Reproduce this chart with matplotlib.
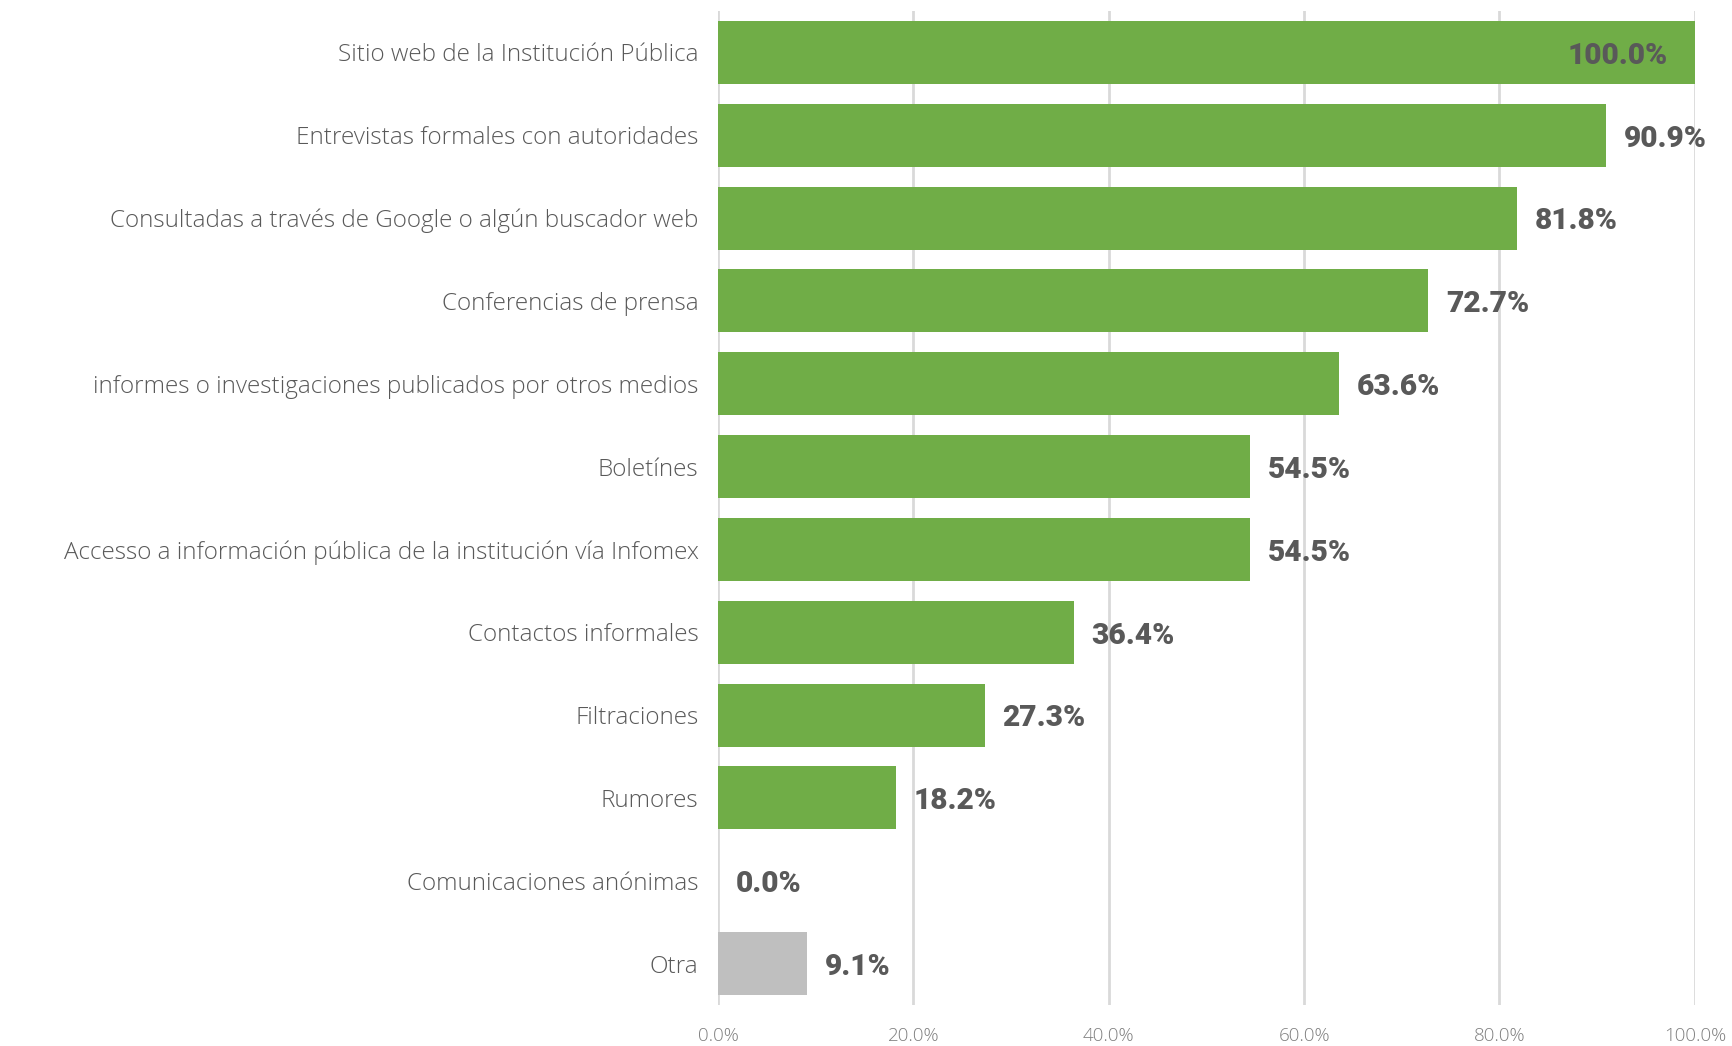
import matplotlib
matplotlib.use("Agg")
import matplotlib.pyplot as plt
from matplotlib.ticker import PercentFormatter

# Data (percent of respondents)
categories = [
    "Sitio web de la Institución Pública",
    "Entrevistas formales con autoridades",
    "Consultadas a través de Google o algún buscador web",
    "Conferencias de prensa",
    "informes o investigaciones publicados por otros medios",
    "Boletínes",
    "Accesso a información pública de la institución vía Infomex",
    "Contactos informales",
    "Filtraciones",
    "Rumores",
    "Comunicaciones anónimas",
    "Otra",
]
values = [100.0, 90.9, 81.8, 72.7, 63.6, 54.5, 54.5, 36.4, 27.3, 18.2, 0.0, 9.1]
bar_colors = ["#70AD47"] * 11 + ["#BFBFBF"]
x_ticks = [0, 20, 40, 60, 80, 100]

plt.rcParams['font.family'] = ['Open Sans', 'DejaVu Sans']

fig = plt.figure(figsize=(17.33, 10.46), dpi=100)
ax = fig.add_axes([0.4143, 0.0392, 0.978 - 0.4143, 0.9895 - 0.0392])

y = list(range(len(categories)))
ax.barh(y, values, height=0.76, color=bar_colors, zorder=2)

# value labels (the full bar gets its label inside)
for yi, v in zip(y, values):
    if v >= 99:
        ax.text(v - 2.8, yi + 0.04, f"{v:.1f}%", ha='right', va='center',
                fontsize=21.5, fontweight='heavy', color='#595959', zorder=3,
                family=['Roboto', 'DejaVu Sans'])
    else:
        ax.text(v + 1.8, yi + 0.04, f"{v:.1f}%", ha='left', va='center',
                fontsize=21.5, fontweight='heavy', color='#595959', zorder=3,
                family=['Roboto', 'DejaVu Sans'])

ax.set_ylim(len(categories) - 0.5, -0.5)
ax.set_xlim(0, 100)
ax.set_yticks(y)
ax.set_yticklabels(categories, fontsize=17.5, fontweight='light', color='#595959')
ax.set_xticks(x_ticks)
ax.xaxis.set_major_formatter(PercentFormatter(decimals=1))
ax.tick_params(axis='y', length=0, pad=14)
ax.tick_params(axis='x', length=0, pad=16, labelsize=13.5, labelcolor='#7F7F7F')
for lab in ax.get_xticklabels():
    lab.set_fontweight('light')

ax.grid(axis='x', color='#D9D9D9', linewidth=2, zorder=0)
for s in ax.spines.values():
    s.set_visible(False)

fig.savefig("out.png", dpi=100)
